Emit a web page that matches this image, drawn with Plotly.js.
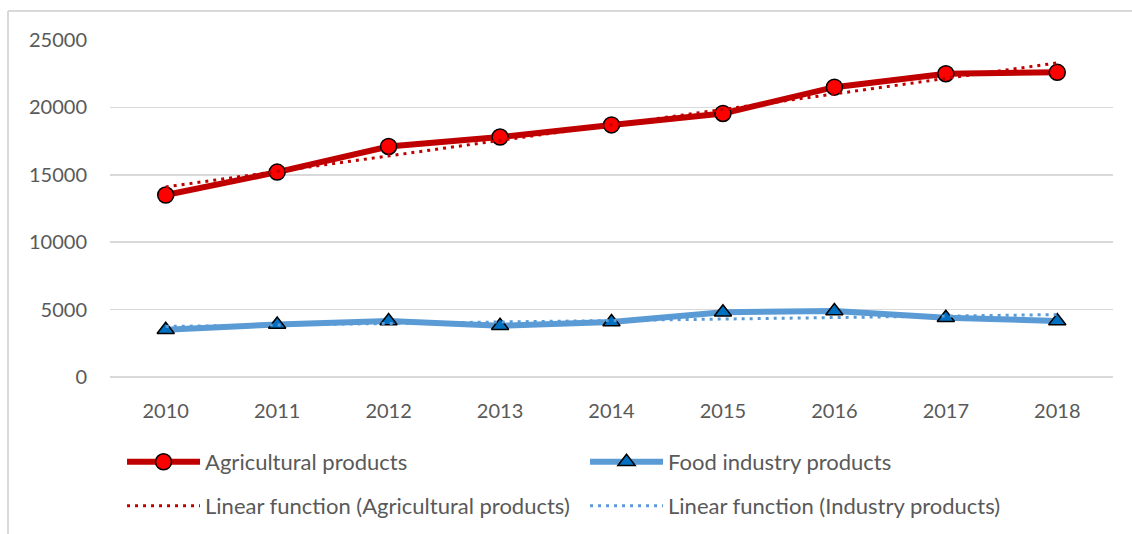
<!DOCTYPE html>
<html>
<head>
<meta charset="utf-8">
<script src="https://cdn.plot.ly/plotly-3.0.1.min.js"></script>
<style>
html,body{margin:0;padding:0;background:#fff;}
#chart{width:1132px;height:534px;}
</style>
</head>
<body>
<div id="chart"></div>
<script>
const years = ["2010","2011","2012","2013","2014","2015","2016","2017","2018"];
const agricultural = [13500, 15200, 17100, 17800, 18700, 19550, 21500, 22500, 22600];
const foodIndustry = [3500, 3900, 4150, 3800, 4080, 4800, 4900, 4400, 4150];
// trend line end values (first and last year)
const trendYears = ["2010", "2018"];
const agriTrend = [14100, 23300];
const foodTrend = [3750, 4630];
const yTicks = [0, 5000, 10000, 15000, 20000, 25000];

const fontFam = "Lato, 'Liberation Sans', sans-serif";
const txt = "#595959";

const traces = [
  {x: years, y: agricultural, name: "Agricultural products", type: "scatter", mode: "lines+markers",
   line: {color: "#c00000", width: 6}, marker: {symbol: "circle", size: 16, color: "#ff0000", line: {color: "#000", width: 1.5}},
   legend: "legend"},
  {x: years, y: foodIndustry, name: "Food industry products", type: "scatter", mode: "lines+markers",
   line: {color: "#5b9bd5", width: 6}, marker: {symbol: "triangle-up", size: 15, color: "#0070c0", line: {color: "#000", width: 1.5}},
   legend: "legend"},
  {x: trendYears, y: agriTrend, name: "Linear function (Agricultural products)", type: "scatter", mode: "lines",
   line: {color: "#c00000", width: 3, dash: "3px,5px"}, legend: "legend2"},
  {x: trendYears, y: foodTrend, name: "Linear function (Industry products)", type: "scatter", mode: "lines",
   line: {color: "#5b9bd5", width: 3, dash: "3px,5px"}, legend: "legend2"}
];

const legendCommon = {
  orientation: "h", xanchor: "left", yanchor: "middle", x: 0.012,
  font: {family: fontFam, size: 22, color: txt}, itemwidth: 73,
  entrywidth: 375, entrywidthmode: "pixels", bgcolor: "rgba(0,0,0,0)", traceorder: "normal"
};

const layout = {
  width: 1132, height: 534,
  margin: {l: 110, r: 19, t: 40, b: 157, autoexpand: false},
  paper_bgcolor: "#fff", plot_bgcolor: "#fff",
  font: {family: fontFam, size: 20, color: txt},
  showlegend: true,
  xaxis: {type: "category", range: [-0.5, 8.5], showgrid: false, showline: false, zeroline: false, ticks: "",
          ticklabelstandoff: 20, tickfont: {family: fontFam, size: 20, color: txt}, fixedrange: true},
  yaxis: {range: [0, 25000], tickvals: yTicks, ticktext: yTicks.map(String), showgrid: true, gridcolor: "#d9d9d9", gridwidth: 1.5,
          zeroline: true, zerolinecolor: "#d9d9d9", zerolinewidth: 1.5, showline: false, ticks: "",
          ticklabelstandoff: 22, tickfont: {family: fontFam, size: 20, color: txt}, fixedrange: true},
  legend: Object.assign({}, legendCommon, {y: -0.2522}),
  legend2: Object.assign({}, legendCommon, {y: -0.3828}),
  shapes: [
    {type: "line", xref: "paper", yref: "paper", x0: -0.1017, x1: 1.05, y0: 1.086, y1: 1.086, line: {color: "#d9d9d9", width: 2}},
    {type: "line", xref: "paper", yref: "paper", x0: -0.1017, x1: -0.1017, y0: 1.086, y1: -0.47, line: {color: "#d9d9d9", width: 2}}
  ]
};

Plotly.newPlot("chart", traces, layout, {staticPlot: true, displayModeBar: false});
</script>
</body>
</html>
